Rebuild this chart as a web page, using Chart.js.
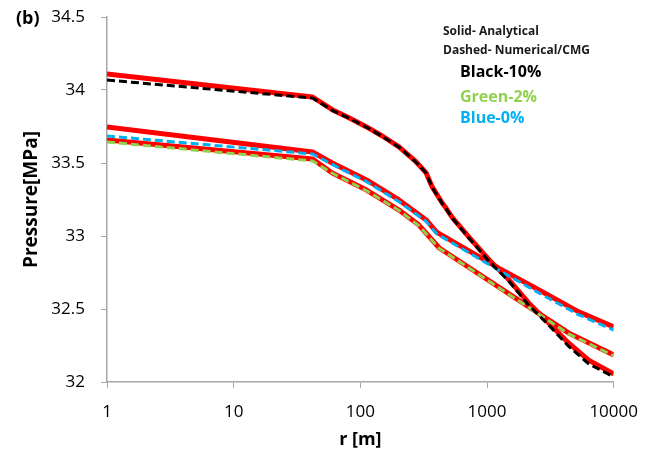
<!DOCTYPE html>
<html>
<head>
<meta charset="utf-8">
<script src="https://cdn.jsdelivr.net/npm/chart.js@4.4.1/dist/chart.umd.min.js"></script>
<style>
  body{margin:0;background:#fff;}
  #wrap{width:652px;height:455px;}
</style>
</head>
<body>
<div id="wrap"><canvas id="myChart" width="652" height="455"></canvas></div>
<script>
//---------- data ----------
const xTicks=[1,10,100,1000,10000];
const yTicks=[32,32.5,33,33.5,34,34.5];

// Black-10%
const rBlack=[1,42,60,82,112,149,202,276,331,369,443,476,529,720,1040,1490,2140,3070,4400,6340,10000];
const pBlackAnalytical=[34.11,33.952,33.865,33.808,33.747,33.685,33.61,33.507,33.432,33.336,33.226,33.19,33.13,32.993,32.836,32.70,32.54,32.404,32.267,32.15,32.055];
const pBlackCMG=[34.068,33.945,33.861,33.805,33.745,33.682,33.608,33.505,33.43,33.333,33.222,33.186,33.125,32.985,32.826,32.69,32.525,32.39,32.245,32.125,32.035];

// Blue-0%
const rBlue=[1,42,60,112,202,331,400,1240,2570,5300,10000];
const pBlueAnalytical=[33.747,33.575,33.50,33.384,33.247,33.11,33.027,32.78,32.63,32.48,32.377];
const pBlueCMG=[33.685,33.562,33.49,33.372,33.235,33.10,33.015,32.765,32.61,32.46,32.356];

// Green-2%
const rGreen=[1,42,60,112,202,290,420,2140,4400,10000];
const pGreenAnalytical=[33.658,33.527,33.432,33.315,33.178,33.075,32.918,32.514,32.336,32.185];
const pGreenCMG=[33.644,33.514,33.43,33.31,33.175,33.07,32.915,32.51,32.33,32.18];

const FONT="'Open Sans', 'DejaVu Sans', sans-serif";
const axisGray='#A6A6A6';

//---------- helpers ----------
const toPoints=(rs,ps)=>rs.map((r,i)=>({x:r,y:ps[i]}));

const solidLine=(label,rs,ps)=>({
  label:label,
  data:toPoints(rs,ps),
  borderColor:'#FF0000',
  borderWidth:5,
  borderJoinStyle:'round',
  pointRadius:0,
  tension:0,
  fill:false,
  order:2,
});
const dashedLine=(label,rs,ps,color)=>({
  label:label,
  data:toPoints(rs,ps),
  borderColor:color,
  borderWidth:3,
  borderDash:[8,4],
  borderJoinStyle:'round',
  pointRadius:0,
  tension:0,
  fill:false,
  order:1,
});

//---------- text drawn on top (panel tag + note box) ----------
const notesPlugin={
  id:'notes',
  afterDraw(chart){
    const c=chart.ctx;
    c.save();
    c.textBaseline='middle';
    c.textAlign='left';
    c.fillStyle='#000';
    c.font='bold 18px '+FONT;
    c.fillText('(b)',16,19);

    c.font='bold 12px '+FONT;
    c.fillStyle='#1a1a1a';
    c.fillText('Solid- Analytical',443,32);
    c.fillText('Dashed- Numerical/CMG',443,51);

    c.font='bold 16px '+FONT;
    c.fillStyle='#000';
    c.fillText('Black-10%',460,72);
    c.fillStyle='#92D050';
    c.fillText('Green-2%',460,97);
    c.fillStyle='#00B0F0';
    c.fillText('Blue-0%',460,118);
    c.restore();
  }
};

const ctx=document.getElementById('myChart');
const chart=new Chart(ctx,{
  type:'line',
  data:{
    datasets:[
      dashedLine('Black CMG',rBlack,pBlackCMG,'#000000'),
      dashedLine('Green CMG',rGreen,pGreenCMG,'#92D050'),
      dashedLine('Blue CMG',rBlue,pBlueCMG,'#00B0F0'),
      solidLine('Black analytical',rBlack,pBlackAnalytical),
      solidLine('Green analytical',rGreen,pGreenAnalytical),
      solidLine('Blue analytical',rBlue,pBlueAnalytical),
    ]
  },
  options:{
    responsive:false,
    animation:false,
    layout:{padding:{top:17,right:37,bottom:0,left:0}},
    plugins:{
      legend:{display:false},
      tooltip:{enabled:false},
    },
    scales:{
      x:{
        type:'logarithmic',
        min:1,
        max:10000,
        afterBuildTicks:(scale)=>{scale.ticks=xTicks.map(v=>({value:v}));},
        afterFit:(scale)=>{scale.height=73;},
        grid:{drawOnChartArea:false,drawTicks:true,tickLength:6,color:axisGray},
        border:{color:axisGray,width:1.5},
        ticks:{
          color:'#000',
          padding:14,
          maxRotation:0,
          font:{family:FONT,size:17},
          callback:(v)=>String(v),
        },
        title:{
          display:true,
          text:'r [m]',
          color:'#000',
          font:{family:FONT,size:18,weight:'bold'},
          padding:{top:0,bottom:4},
        },
      },
      y:{
        type:'linear',
        min:32,
        max:34.5,
        afterBuildTicks:(scale)=>{scale.ticks=yTicks.map(v=>({value:v}));},
        afterFit:(scale)=>{
          scale.width=107;
          // keep the label overhang from pushing the plot area down
          scale.paddingTop=4;
          scale.paddingBottom=4;
        },
        grid:{drawOnChartArea:false,drawTicks:true,tickLength:6,color:axisGray},
        border:{color:axisGray,width:1.5},
        ticks:{
          color:'#000',
          padding:16,
          font:{family:FONT,size:17},
          callback:(v)=>String(v),
        },
        title:{
          display:true,
          text:'Pressure[MPa]',
          color:'#000',
          font:{family:FONT,size:19,weight:'bold'},
          padding:{top:20,bottom:0},
        },
      }
    }
  },
  plugins:[notesPlugin],
});
</script>
</body>
</html>
